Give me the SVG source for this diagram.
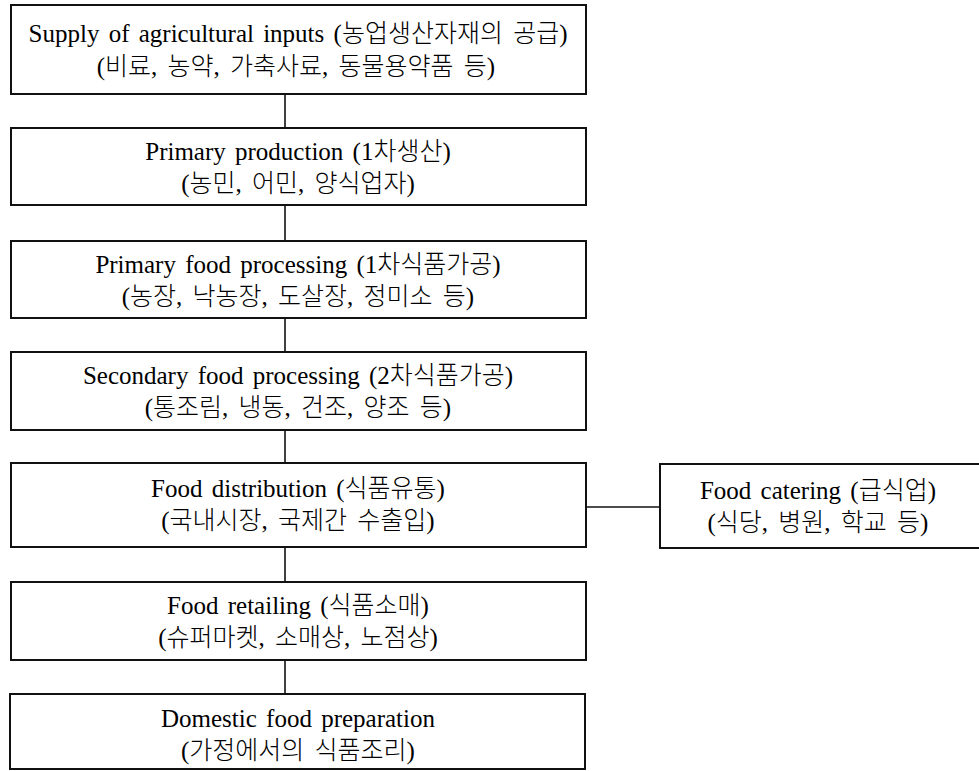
<svg xmlns="http://www.w3.org/2000/svg" width="979" height="771" viewBox="0 0 979 771">
<style>
.box{fill:#fff;stroke:#111;stroke-width:2}
.t{font-family:"Liberation Serif","Noto Sans CJK KR",serif;font-size:25px;fill:#000;text-anchor:middle;word-spacing:3px}
.k{font-size:25px;word-spacing:4px;font-weight:300}
.c{stroke:#111;stroke-width:1.6;fill:none}
</style>
<rect width="979" height="771" fill="#fff"/>
<g id="connectors">
<line class="c" x1="285" y1="94" x2="285" y2="128"/>
<line class="c" x1="285" y1="205" x2="285" y2="241"/>
<line class="c" x1="285" y1="318" x2="285" y2="352"/>
<line class="c" x1="285" y1="430" x2="285" y2="463"/>
<line class="c" x1="285" y1="547" x2="285" y2="582"/>
<line class="c" x1="285" y1="660" x2="285" y2="694"/>
<line class="c" x1="585" y1="507" x2="660" y2="507"/>
</g>
<g id="n1">
<rect class="box" x="11" y="5" width="575" height="89"/>
<text class="t" x="298" y="42">Supply of agricultural inputs (<tspan class="k">농업생산자재의 공급</tspan>)</text>
<text class="t k" x="296" y="75">(비료, 농약, 가축사료, 동물용약품 등)</text>
</g>
<g id="n2">
<rect class="box" x="11" y="128" width="575" height="77"/>
<text class="t" x="298" y="160">Primary production (1<tspan class="k">차생산</tspan>)</text>
<text class="t k" x="298" y="192">(농민, 어민, 양식업자)</text>
</g>
<g id="n3">
<rect class="box" x="11" y="241" width="575" height="77"/>
<text class="t" x="298" y="273">Primary food processing (1<tspan class="k">차식품가공</tspan>)</text>
<text class="t k" x="298" y="305">(농장, 낙농장, 도살장, 정미소 등)</text>
</g>
<g id="n4">
<rect class="box" x="11" y="352" width="575" height="78"/>
<text class="t" x="298" y="384">Secondary food processing (2<tspan class="k">차식품가공</tspan>)</text>
<text class="t k" x="298" y="416">(통조림, 냉동, 건조, 양조 등)</text>
</g>
<g id="n5">
<rect class="box" x="11" y="463" width="575" height="84"/>
<text class="t" x="298" y="497">Food distribution (<tspan class="k">식품유통</tspan>)</text>
<text class="t k" x="298" y="529">(국내시장, 국제간 수출입)</text>
</g>
<g id="n6">
<rect class="box" x="11" y="582" width="575" height="78"/>
<text class="t" x="298" y="614">Food retailing (<tspan class="k">식품소매</tspan>)</text>
<text class="t k" x="298" y="646">(슈퍼마켓, 소매상, 노점상)</text>
</g>
<g id="n7">
<rect class="box" x="10" y="694" width="575" height="75"/>
<text class="t" x="298" y="727">Domestic food preparation</text>
<text class="t k" x="298" y="759">(가정에서의 식품조리)</text>
</g>
<g id="n8">
<rect class="box" x="660" y="464" width="330" height="84"/>
<text class="t" x="818" y="499">Food catering (<tspan class="k">급식업</tspan>)</text>
<text class="t k" x="818" y="531">(식당, 병원, 학교 등)</text>
</g>
</svg>
